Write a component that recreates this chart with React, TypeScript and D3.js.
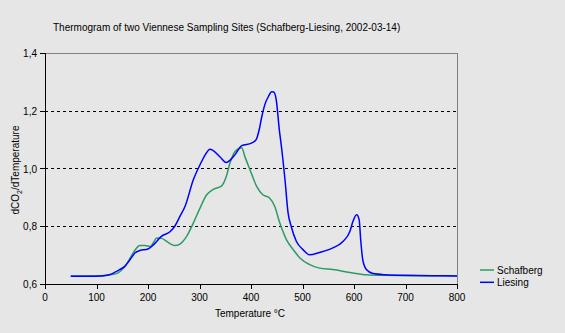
import React from "react";
import * as d3 from "d3";

const title = "Thermogram of two Viennese Sampling Sites (Schafberg-Liesing, 2002-03-14)";
const xTicks = [0, 100, 200, 300, 400, 500, 600, 700, 800];
const yTicks = [0.6, 0.8, 1.0, 1.2, 1.4];
const gridValues = [0.8, 1.0, 1.2];
const seriesNames = ["Schafberg", "Liesing"];
const seriesColors = ["#2e9a64", "#0000ff"];

const schafberg: [number, number][] = [
  [50, 0.628], [80, 0.628], [110, 0.629], [125, 0.632], [139, 0.636], [147, 0.645],
  [155, 0.661], [163, 0.683], [171, 0.707], [178, 0.725], [184, 0.733], [194, 0.733],
  [204, 0.73], [210, 0.742], [217, 0.759], [226, 0.758], [239, 0.744], [252, 0.733],
  [262, 0.738], [268, 0.748], [275, 0.765], [288, 0.811], [301, 0.863], [314, 0.909],
  [326, 0.927], [343, 0.94], [352, 0.972], [359, 1.018], [369, 1.059], [382, 1.072],
  [388, 1.042], [398, 0.996], [411, 0.938], [423, 0.909], [436, 0.898], [446, 0.869],
  [456, 0.811], [469, 0.753], [482, 0.719], [495, 0.69], [514, 0.667], [533, 0.655],
  [559, 0.65], [592, 0.64], [624, 0.632], [660, 0.63], [700, 0.629], [800, 0.628],
];

const liesing: [number, number][] = [
  [50, 0.627], [80, 0.627], [110, 0.628], [125, 0.632], [135, 0.64], [145, 0.65],
  [155, 0.661], [165, 0.684], [175, 0.708], [184, 0.716], [200, 0.721], [212, 0.738],
  [226, 0.765], [242, 0.78], [252, 0.8], [262, 0.834], [272, 0.869], [288, 0.961],
  [301, 1.013], [312, 1.05], [320, 1.067], [326, 1.063], [340, 1.04], [352, 1.021],
  [360, 1.03], [369, 1.048], [382, 1.079], [401, 1.088], [410, 1.1], [416, 1.135],
  [421, 1.18], [427, 1.222], [434, 1.25], [440, 1.266], [444, 1.265], [449, 1.238],
  [455, 1.134], [459, 1.077], [466, 0.961], [472, 0.846], [478, 0.8], [488, 0.748],
  [501, 0.719], [514, 0.701], [533, 0.709], [559, 0.725], [579, 0.748], [592, 0.782],
  [598, 0.817], [605, 0.84], [610, 0.823], [613, 0.753], [617, 0.684], [624, 0.65],
  [637, 0.636], [660, 0.632], [700, 0.63], [750, 0.629], [800, 0.628],
];

const W = 565;
const H = 333;
const left = 45;
const right = 457;
const top = 53;
const bottom = 284;
const font = "'Liberation Sans', Arial, sans-serif";

export default function App() {
  const x = d3.scaleLinear().domain([0, 800]).range([left, right]);
  const y = d3.scaleLinear().domain([0.6, 1.4]).range([bottom, top]);
  const line = d3
    .line<[number, number]>()
    .x((d) => x(d[0]))
    .y((d) => y(d[1]))
    .curve(d3.curveMonotoneX);
  const data = [schafberg, liesing];

  return (
    <svg
      width={W}
      height={H}
      style={{ position: "absolute", left: 0, top: 0, display: "block" }}
      fontFamily={font}
    >
      <rect x={0} y={0} width={W} height={H} fill="#e6e6e6" />
      <text x={53} y={31} fontSize={10} fill="#000">
        {title}
      </text>
      {gridValues.map((v) => (
        <line
          key={v}
          x1={left}
          x2={right}
          y1={Math.round(y(v)) + 0.5}
          y2={Math.round(y(v)) + 0.5}
          stroke="#000"
          strokeWidth={1}
          strokeDasharray="3,3"
        />
      ))}
      <line x1={left} x2={right + 0.5} y1={top + 0.5} y2={top + 0.5} stroke="#808080" />
      <line x1={right + 0.5} x2={right + 0.5} y1={top} y2={bottom} stroke="#808080" />
      {data.map((d, i) => (
        <path key={i} d={line(d) || ""} fill="none" stroke={seriesColors[i]} strokeWidth={1.5} />
      ))}
      <line x1={left + 0.5} x2={left + 0.5} y1={top} y2={bottom + 0.5} stroke="#000" />
      <line x1={left} x2={right + 1} y1={bottom + 0.5} y2={bottom + 0.5} stroke="#000" />
      {yTicks.map((v) => (
        <g key={v}>
          <line
            x1={left - 5}
            x2={left}
            y1={Math.round(y(v)) + 0.5}
            y2={Math.round(y(v)) + 0.5}
            stroke="#000"
          />
          <text x={37} y={y(v) + 4} fontSize={10} textAnchor="end" fill="#000">
            {d3.format(".1f")(v).replace(".", ",")}
          </text>
        </g>
      ))}
      {xTicks.map((v) => (
        <g key={v}>
          <line
            x1={Math.round(x(v)) + 0.5}
            x2={Math.round(x(v)) + 0.5}
            y1={bottom}
            y2={bottom + 5}
            stroke="#000"
          />
          <text x={x(v)} y={301} fontSize={10} textAnchor="middle" fill="#000">
            {v}
          </text>
        </g>
      ))}
      <text x={250} y={317} fontSize={10} textAnchor="middle" fill="#000">
        Temperature °C
      </text>
      <text
        transform={`translate(19,170) rotate(-90)`}
        fontSize={10}
        textAnchor="middle"
        fill="#000"
      >
        dCO<tspan fontSize={7} dy={3}>2</tspan>
        <tspan dy={-3}>/dTemperature</tspan>
      </text>
      {seriesNames.map((n, i) => (
        <g key={n}>
          <line
            x1={480}
            x2={494}
            y1={270 + i * 12.3}
            y2={270 + i * 12.3}
            stroke={seriesColors[i]}
            strokeWidth={1.5}
          />
          <text x={497} y={274 + i * 12.3} fontSize={10} fill="#000">
            {n}
          </text>
        </g>
      ))}
    </svg>
  );
}
